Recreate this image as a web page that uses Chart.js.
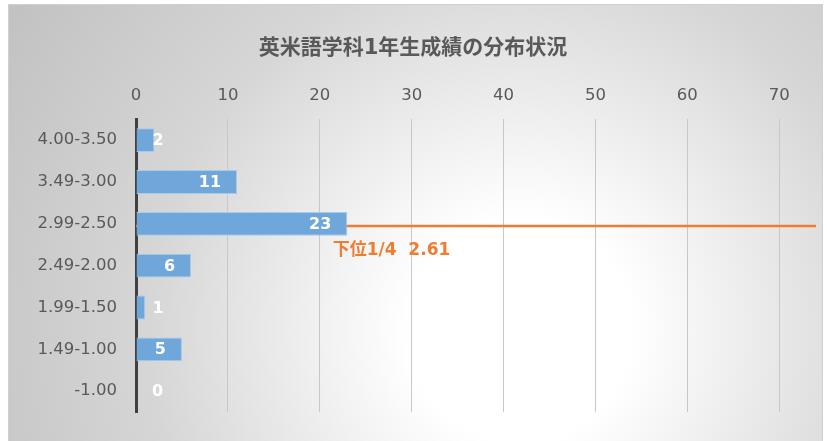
<!DOCTYPE html>
<html>
<head>
<meta charset="utf-8">
<script src="https://cdn.jsdelivr.net/npm/chart.js@4"></script>
<style>
  html, body { margin: 0; padding: 0; background: #fff; }
  #wrap { width: 827px; height: 441px; }
</style>
</head>
<body>
<div id="wrap"><canvas id="chart"></canvas></div>
<script>
// grade bands (top to bottom) and student counts
const gradeBands = ['4.00-3.50', '3.49-3.00', '2.99-2.50', '2.49-2.00', '1.99-1.50', '1.49-1.00', '-1.00'];
const studentCounts = [2, 11, 23, 6, 1, 5, 0];

// lower-quartile marker line (on a hidden 0-4 GPA axis)
const quartileValue = 2.61;
const quartileLabel = '下位1/4  2.61';
const quartileLine = [{ x: 0, y: quartileValue }, { x: 74, y: quartileValue }];

const chartTitle = '英米語学科1年生成績の分布状況';
const xMax = 74;

const FONT = '"DejaVu Sans", "Noto Sans CJK JP", sans-serif';
Chart.defaults.font.family = FONT;
Chart.defaults.color = '#595959';

// radial grey-white background with a thin frame
const backgroundPlugin = {
  id: 'bg',
  beforeDraw(chart) {
    const { ctx, width, height } = chart;
    ctx.save();
    ctx.fillStyle = '#fff';
    ctx.fillRect(0, 0, width, height);
    const g = ctx.createRadialGradient(520, 330, 0, 520, 330, 620);
    g.addColorStop(0, '#ffffff');
    g.addColorStop(0.18, '#ffffff');
    g.addColorStop(0.6, '#d6d6d6');
    g.addColorStop(1, '#c0c0c0');
    ctx.fillStyle = g;
    ctx.fillRect(8, 4, 815, height - 4);
    ctx.strokeStyle = '#d0d0d0';
    ctx.lineWidth = 1;
    ctx.strokeRect(8.5, 4.5, 814, height);
    ctx.restore();
  }
};

// value labels on bars + quartile text
const labelPlugin = {
  id: 'labels',
  afterDatasetsDraw(chart) {
    const { ctx } = chart;
    ctx.save();
    ctx.font = 'bold 16px ' + FONT;
    ctx.fillStyle = '#ffffff';
    ctx.textAlign = 'right';
    ctx.textBaseline = 'middle';
    chart.getDatasetMeta(0).data.forEach((bar, i) => {
      const txt = String(studentCounts[i]);
      const w = ctx.measureText(txt).width;
      const x = Math.max(bar.x - 16, bar.base + 16 + w);
      ctx.fillText(txt, x, bar.y + 1);
    });
    const xs = chart.scales.x, ys = chart.scales.y2;
    ctx.font = 'bold 17px ' + FONT;
    ctx.fillStyle = '#ED7D31';
    ctx.textAlign = 'left';
    ctx.fillText(quartileLabel, xs.getPixelForValue(21.4), ys.getPixelForValue(quartileValue) + 25);
    ctx.restore();
  }
};

new Chart(document.getElementById('chart'), {
  type: 'bar',
  data: {
    labels: gradeBands,
    datasets: [
      {
        data: studentCounts,
        backgroundColor: '#6FA7DB',
        borderColor: '#A9CBEB',
        borderWidth: 1,
        borderSkipped: 'start',
        grouped: false,
        barPercentage: 0.57,
        categoryPercentage: 1,
        xAxisID: 'x',
        yAxisID: 'y',
      },
      {
        type: 'scatter',
        data: quartileLine,
        showLine: true,
        pointRadius: 0,
        borderColor: '#ED7D31',
        borderWidth: 2.5,
        xAxisID: 'x',
        yAxisID: 'y2',
      },
    ],
  },
  options: {
    indexAxis: 'y',
    responsive: true,
    maintainAspectRatio: false,
    animation: false,
    layout: { padding: { left: 10, right: 11, top: 0, bottom: 28 } },
    plugins: {
      legend: { display: false },
      tooltip: { enabled: false },
      title: {
        display: true,
        text: chartTitle,
        font: { size: 21, weight: 'bold' },
        color: '#595959',
        padding: { top: 36, bottom: 0 },
      },
    },
    scales: {
      x: {
        position: 'top',
        min: 0,
        max: xMax,
        bounds: 'data',
        afterBuildTicks(s) { s.ticks = s.ticks.filter(t => t.value % 10 === 0); },
        ticks: { stepSize: 10, padding: 14, font: { size: 16.5 }, color: '#595959' },
        grid: { color: '#c8c8c8', drawTicks: false },
        border: { display: false },
        afterFit(s) { s.height = 58; },
      },
      y: {
        position: 'left',
        ticks: { padding: 19, font: { size: 16.5 }, color: '#595959' },
        grid: { display: false, drawTicks: false },
        border: { color: '#404040', width: 3 },
        afterFit(s) { s.width = 126; },
      },
      y2: {
        type: 'linear',
        position: 'right',
        min: 0,
        max: 4,
        ticks: { display: false },
        grid: { display: false, drawTicks: false },
        border: { display: false },
        afterFit(s) { s.width = 0; },
      },
    },
  },
  plugins: [backgroundPlugin, labelPlugin],
});
</script>
</body>
</html>
